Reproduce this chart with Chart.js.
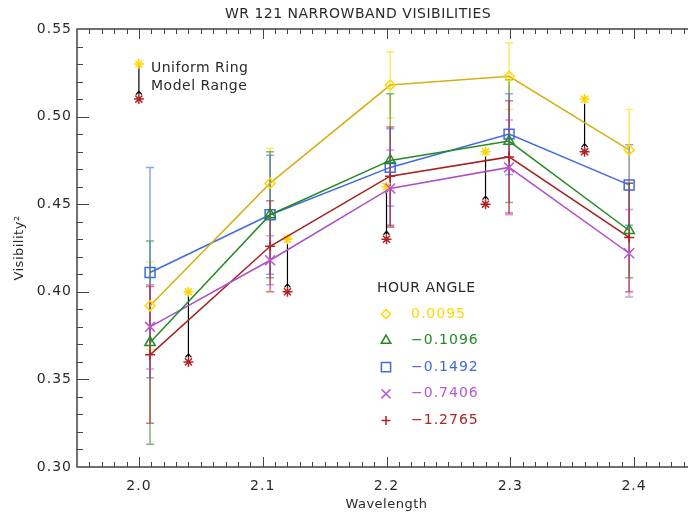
<!DOCTYPE html>
<html>
<head>
<meta charset="utf-8">
<script src="https://cdn.jsdelivr.net/npm/chart.js@4.4.1/dist/chart.umd.min.js"></script>
<style>
  html, body { margin: 0; padding: 0; background: #fff; overflow: hidden; }
  #wrap { width: 688px; height: 516px; overflow: hidden; }
</style>
</head>
<body>
<div id="wrap"><canvas id="chart" width="716" height="516"></canvas></div>
<script>
// narrowband channel centres (microns)
const wavelengths = [2.009, 2.106, 2.203, 2.299, 2.396];

// hour angles, one series each
const hourAngles = ['0.0095', '\u22120.1096', '\u22120.1492', '\u22120.7406', '\u22121.2765'];

// squared visibilities and 1-sigma errors per hour angle
const vis0095 = [0.392, 0.462, 0.518, 0.523, 0.481];
const vis1096 = [0.371, 0.444, 0.475, 0.486, 0.435];
const vis1492 = [0.411, 0.444, 0.471, 0.490, 0.461];
const vis7406 = [0.380, 0.418, 0.459, 0.471, 0.422];
const vis12765 = [0.364, 0.426, 0.466, 0.477, 0.431];

const err0095 = [0.025, 0.020, 0.019, 0.019, 0.023];
const err1096 = [0.058, 0.036, 0.038, 0.035, 0.027];
const err1492 = [0.060, 0.034, 0.022, 0.023, 0.023];
const err7406 = [0.024, 0.014, 0.022, 0.027, 0.025];
const err12765 = [0.039, 0.026, 0.028, 0.032, 0.031];

// uniform ring model range: upper (gold) and lower (red) V^2
const ringWavelengths = [2.04, 2.12, 2.20, 2.28, 2.36];
const ringUpper = [0.40, 0.43, 0.46, 0.48, 0.51];
const ringLower = [0.36, 0.40, 0.43, 0.45, 0.48];

// key sample drawn next to the "Uniform Ring / Model Range" note
const keyWavelength = [2.00];
const keyUpper = [0.53];
const keyLower = [0.51];

// axis ticks
const xTicks = [2.0, 2.1, 2.2, 2.3, 2.4];
const yTicks = [0.30, 0.35, 0.40, 0.45, 0.50, 0.55];

const markerColors = ['#FFD700', '#228B22', '#4169E1', '#BA55D3', '#B22222'];
const lineColors = ['#D8AE10', '#228B22', '#4169E1', '#AD4FC8', '#A52020'];
const errColors = ['rgba(255,215,0,0.6)', 'rgba(34,139,34,0.6)', 'rgba(65,105,225,0.6)',
                   'rgba(186,85,211,0.6)', 'rgba(178,34,34,0.6)'];
const pointStyles = ['rectRot', 'triangle', 'rect', 'crossRot', 'cross'];
const pointRadii = [5, 6, 7, 7, 5];

const visValues = [vis0095, vis1096, vis1492, vis7406, vis12765];
const visErrors = [err0095, err1096, err1492, err7406, err12765];

const FONT = '"DejaVu Sans", sans-serif';
const TEXT = '#2a2a2a';
const AXIS = '#444';

const toPoints = (xs, ys) => xs.map((x, i) => ({ x, y: ys[i] }));

const datasets = hourAngles.map((label, k) => ({
  label,
  data: toPoints(wavelengths, visValues[k]),
  borderColor: lineColors[k],
  borderWidth: 1.5,
  pointStyle: pointStyles[k],
  pointRadius: pointRadii[k],
  pointBorderColor: markerColors[k],
  pointBackgroundColor: 'rgba(0,0,0,0)',
  pointBorderWidth: 1.5,
  tension: 0
}));

const starSet = (label, xs, ys, color) => ({
  label,
  data: toPoints(xs, ys),
  showLine: false,
  pointStyle: 'star',
  pointRadius: 5,
  pointBorderColor: color,
  pointBackgroundColor: color,
  pointBorderWidth: 1.5
});
datasets.push(starSet('ring upper', ringWavelengths.concat(keyWavelength), ringUpper.concat(keyUpper), '#FFD700'));
datasets.push(starSet('ring lower', ringWavelengths.concat(keyWavelength), ringLower.concat(keyLower), '#B22222'));

function drawRange(ctx, x, y, w, hi, lo) {
  const px = x.getPixelForValue(w);
  const top = y.getPixelForValue(hi);
  const bot = y.getPixelForValue(lo) - 5;
  ctx.beginPath();
  ctx.moveTo(px, top);
  ctx.lineTo(px, bot);
  // small caret at the lower end
  ctx.moveTo(px - 3, bot + 0.5);
  ctx.lineTo(px, bot - 3);
  ctx.lineTo(px + 3, bot + 0.5);
  ctx.stroke();
}

const decorations = {
  id: 'decorations',
  beforeDraw(chart) {
    chart.ctx.letterSpacing = '1px';
  },
  beforeDatasetsDraw(chart) {
    const { ctx, scales: { x, y } } = chart;
    ctx.save();
    ctx.lineWidth = 1.5;
    visValues.forEach((vals, k) => {
      ctx.strokeStyle = errColors[k];
      wavelengths.forEach((w, i) => {
        const px = x.getPixelForValue(w);
        const top = y.getPixelForValue(vals[i] + visErrors[k][i]);
        const bot = y.getPixelForValue(vals[i] - visErrors[k][i]);
        ctx.beginPath();
        ctx.moveTo(px, top); ctx.lineTo(px, bot);
        ctx.moveTo(px - 4, top); ctx.lineTo(px + 4, top);
        ctx.moveTo(px - 4, bot); ctx.lineTo(px + 4, bot);
        ctx.stroke();
      });
    });
    ctx.strokeStyle = '#000';
    ctx.lineWidth = 1.2;
    ringWavelengths.forEach((w, i) => drawRange(ctx, x, y, w, ringUpper[i], ringLower[i]));
    keyWavelength.forEach((w, i) => drawRange(ctx, x, y, w, keyUpper[i], keyLower[i]));
    ctx.restore();
  },
  afterDraw(chart) {
    const { ctx, chartArea: a, scales: { x, y } } = chart;
    ctx.save();

    // frame
    ctx.strokeStyle = AXIS;
    ctx.lineWidth = 1.5;
    ctx.beginPath();
    ctx.moveTo(a.right, a.top);
    ctx.lineTo(a.left, a.top);
    ctx.lineTo(a.left, a.bottom);
    ctx.lineTo(a.right, a.bottom);
    ctx.stroke();

    // inward ticks, minor every 0.01
    ctx.lineWidth = 1;
    ctx.beginPath();
    for (let i = 196; i < 245; i++) {
      const px = Math.round(x.getPixelForValue(i / 100)) + 0.5;
      const len = i % 10 === 0 ? 10 : 5;
      ctx.moveTo(px, a.bottom); ctx.lineTo(px, a.bottom - len);
      ctx.moveTo(px, a.top); ctx.lineTo(px, a.top + len);
    }
    for (let i = 31; i < 55; i++) {
      const py = Math.round(y.getPixelForValue(i / 100)) + 0.5;
      const len = i % 5 === 0 ? 12 : 6;
      ctx.moveTo(a.left, py); ctx.lineTo(a.left + len, py);
    }
    ctx.stroke();

    ctx.fillStyle = TEXT;
    ctx.textBaseline = 'middle';

    // title and axis titles
    ctx.letterSpacing = '0.5px';
    ctx.font = '14px ' + FONT;
    ctx.textAlign = 'center';
    ctx.fillText('WR 121 NARROWBAND VISIBILITIES', chart.width / 2, 14);
    ctx.font = '13px ' + FONT;
    ctx.fillText('Wavelength', (a.left + a.right) / 2, 505);
    ctx.save();
    ctx.translate(20, (a.top + a.bottom) / 2);
    ctx.rotate(-Math.PI / 2);
    ctx.fillText('Visibility\u00B2', 0, 0);
    ctx.restore();

    // model range note
    ctx.textAlign = 'left';
    ctx.font = '14px ' + FONT;
    ctx.fillText('Uniform Ring', 151, 68);
    ctx.fillText('Model Range', 151, 86);

    // hour angle key
    ctx.fillText('HOUR ANGLE', 377, 288);
    ctx.letterSpacing = '1px';
    hourAngles.forEach((label, k) => {
      const ly = 314 + k * 26.6;
      ctx.strokeStyle = markerColors[k];
      ctx.fillStyle = 'rgba(0,0,0,0)';
      ctx.lineWidth = 1.5;
      Chart.helpers.drawPoint(ctx, {
        pointStyle: pointStyles[k],
        radius: pointRadii[k] - 0.5,
        rotation: 0,
        borderWidth: 1.5
      }, 386, ly);
      ctx.fillStyle = markerColors[k];
      ctx.fillText(label, 411, ly);
    });

    ctx.restore();
  }
};

new Chart(document.getElementById('chart'), {
  type: 'line',
  data: { datasets },
  options: {
    responsive: false,
    animation: false,
    devicePixelRatio: 1,
    layout: { padding: { top: 29, right: 20, bottom: 0, left: 0 } },
    plugins: { legend: { display: false }, tooltip: { enabled: false }, title: { display: false } },
    scales: {
      x: {
        type: 'linear',
        min: 1.95,
        max: 2.45,
        grid: { display: false, drawTicks: false },
        border: { display: false },
        afterBuildTicks: s => { s.ticks = xTicks.map(value => ({ value })); },
        afterFit: s => { s.height = 49; },
        ticks: {
          padding: 11,
          color: TEXT,
          font: { family: FONT, size: 14 },
          maxRotation: 0,
          callback: v => v.toFixed(1)
        }
      },
      y: {
        type: 'linear',
        min: 0.30,
        max: 0.55,
        grid: { display: false, drawTicks: false },
        border: { display: false },
        afterBuildTicks: s => { s.ticks = yTicks.map(value => ({ value })); },
        afterFit: s => { s.width = 77; },
        ticks: {
          padding: 5,
          color: TEXT,
          font: { family: FONT, size: 14 },
          callback: v => v.toFixed(2)
        }
      }
    }
  },
  plugins: [decorations]
});
</script>
</body>
</html>
